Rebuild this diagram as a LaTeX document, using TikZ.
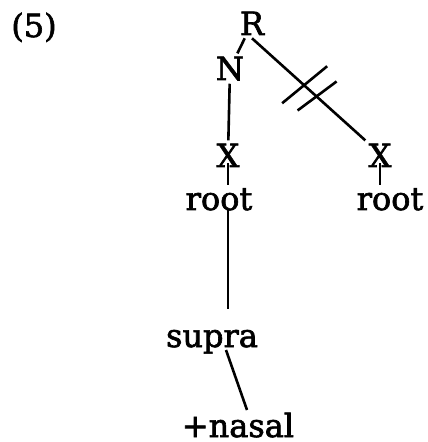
\documentclass[tikz,border=0pt]{standalone}
\usepackage{fontspec}
\setmainfont{DejaVu Serif}[BoldFont={DejaVu Serif}, BoldFeatures={FakeBold=2}]
\usetikzlibrary{calc}

\begin{document}
\begin{tikzpicture}[x=0.5pt, y=-0.5pt, line width=1.3pt,
    lbl/.style={inner sep=1pt, anchor=base, font=\fontsize{16}{18}\selectfont\bfseries}]
  \useasboundingbox (0,0) rectangle (427,442);
  \node[lbl] (num) at (34,37) {(5)};
  \node[lbl] (R) at (252,35) {R};
  \node[lbl] (N) at (230,80) {N};
  \node[lbl] (Xl) at (228,167) {X};
  \node[lbl] (Xr) at (380,167) {X};
  \node[lbl] (rootl) at (219,210) {root};
  \node[lbl] (rootr) at (390,210) {root};
  \node[lbl] (supra) at (212,347) {supra};
  \node[lbl] (nasal) at (238,437) {+nasal};

  \draw (R) -- (N);
  \draw (R.south) -- coordinate[pos=.46] (cut1) coordinate[pos=.57] (cut2) (Xr.north west);
  % delinking marks
  \draw ($(cut1)+(-22,18)$) -- ($(cut1)+(23,-19)$);
  \draw ($(cut2)+(-19,14)$) -- ($(cut2)+(20,-15)$);
  \draw (N) -- (Xl);
  \draw[shorten <=4pt] (Xl.center) -- (Xl |- rootl.north);
  \draw[shorten <=4pt] (Xr.center) -- (Xr |- rootr.north);
  \draw[shorten >=9pt] (Xl |- rootl.base) -- (Xl |- supra.north);
  \draw ($(supra.base)+(14,3)$) -- ($(nasal.base)+(9,-27)$);
\end{tikzpicture}
\end{document}
